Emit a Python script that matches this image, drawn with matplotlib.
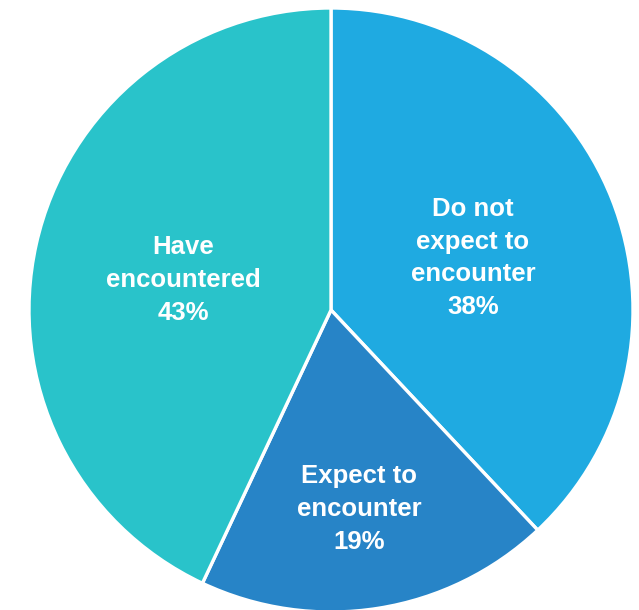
import matplotlib.pyplot as plt

labels = ["Do not\nexpect to\nencounter", "Expect to\nencounter", "Have\nencountered"]
shares = [38, 19, 43]
colors = ["#1FAAE1", "#2784C7", "#29C3CA"]
# label anchor points in pixel coords (x, y from bottom)
label_pos = [(473, 352), (359, 101), (183, 330)]

fig = plt.figure(figsize=(6.39, 6.10), dpi=100)
ax = fig.add_axes([0, 0, 1, 1])
ax.axis("off")

ax.pie(shares, colors=colors, startangle=90, counterclock=False,
       center=(331, 300), radius=302,
       wedgeprops=dict(edgecolor="white", linewidth=2.4))
# pie() resets the limits, so pin them to the pixel grid afterwards
ax.set_xlim(0, 639)
ax.set_ylim(0, 610)
ax.set_aspect("equal")

for lab, val, (x, y) in zip(labels, shares, label_pos):
    ax.text(x, y, f"{lab}\n{val}%", ha="center", va="center",
            color="white", fontsize=18.5, fontweight="bold",
            family="Liberation Sans", linespacing=1.45)

fig.savefig("out.png", dpi=100)
